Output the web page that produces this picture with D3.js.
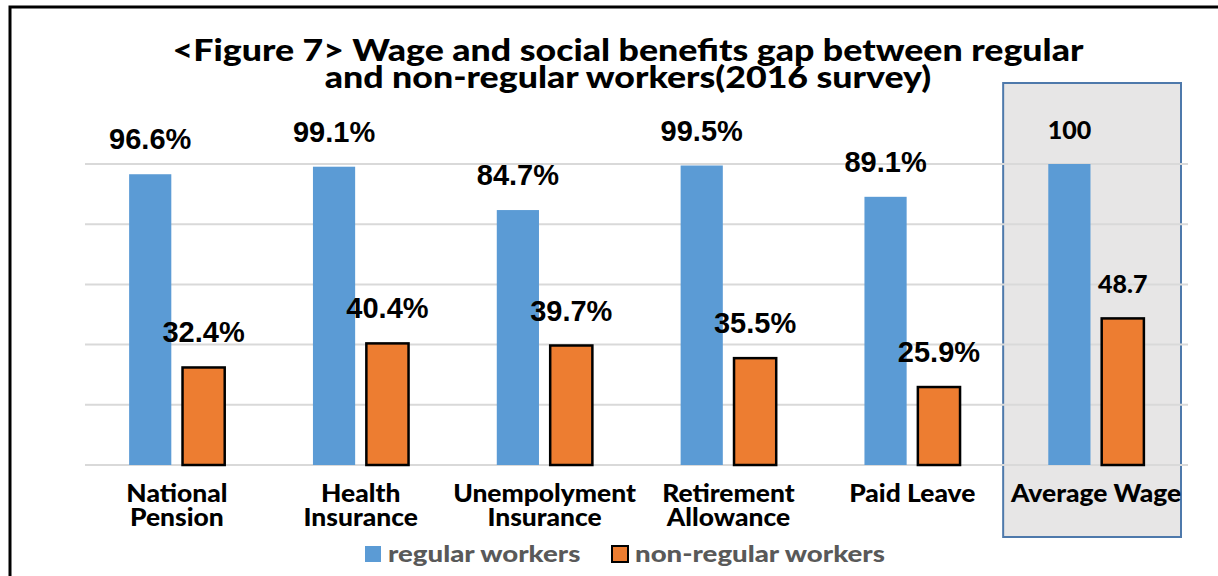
<!DOCTYPE html>
<html>
<head>
<meta charset="utf-8">
<script src="https://d3js.org/d3.v7.min.js"></script>
<style>
  body { margin: 0; background: #fff; }
  svg { display: block; }
</style>
</head>
<body>
<div class="canvas"></div>
<script>
// data
const categories = [
    ['National', 'Pension'],
    ['Health', 'Insurance'],
    ['Unempolyment', 'Insurance'],
    ['Retirement', 'Allowance'],
    ['Paid Leave'],
    ['Average Wage']
];
const regular = [96.6, 99.1, 84.7, 99.5, 89.1, 100];
const nonRegular = [32.4, 40.4, 39.7, 35.5, 25.9, 48.7];
const series = ['regular workers', 'non-regular workers'];
const yTicks = [0, 20, 40, 60, 80, 100];
const titleLines = [
    '<Figure 7> Wage and social benefits gap between regular',
    'and non-regular workers(2016 survey)'
];

const width = 1218, height = 576;
const sans = 'Lato, "Open Sans", sans-serif';
const arial = '"Liberation Sans", Arial, sans-serif';

const svg = d3.select('.canvas')
    .append('svg')
    .attr('width', width)
    .attr('height', height);

// the reference text looks stretched sideways, so widen calibri-ish text a bit
function stretch(sel, k) {
    sel.each(function () {
        const w = this.getComputedTextLength();
        d3.select(this)
            .attr('textLength', w * k)
            .attr('lengthAdjust', 'spacingAndGlyphs');
    });
}

const keys = categories.map(c => c.join(' '));
const data = keys.map((k, i) => ({ key: k, lines: categories[i], values: [regular[i], nonRegular[i]] }));

// scales
const x = d3.scaleBand()
    .domain(keys)
    .range([85, 1188])
    .paddingInner(0.48)
    .paddingOuter(0.24);

const x1 = d3.scaleBand()
    .domain([0, 1])
    .range([0, x.bandwidth()])
    .paddingInner(0.21);

const y = d3.scaleLinear()
    .domain([0, 100])
    .range([465, 164]);

const colors = ['#5b9bd5', '#ed7d31'];

// outer frame
svg.append('rect')
    .attr('x', 10).attr('y', 7)
    .attr('width', width + 20).attr('height', height + 20)
    .attr('fill', 'none')
    .attr('stroke', '#000')
    .attr('stroke-width', 3);

// highlight box for average wage
const last = keys[keys.length - 1];
const step = x.step();
svg.append('rect')
    .attr('x', x(last) - step * x.paddingInner() / 2 - 1)
    .attr('y', 83)
    .attr('width', step - 6)
    .attr('height', 454)
    .attr('fill', '#e7e6e6')
    .attr('stroke', '#4e79ab')
    .attr('stroke-width', 2);

// gridlines
svg.append('g')
    .selectAll('line')
    .data(yTicks)
    .enter()
    .append('line')
    .attr('x1', 85)
    .attr('x2', 1188)
    .attr('y1', d => y(d))
    .attr('y2', d => y(d))
    .attr('stroke', '#d9d9d9')
    .attr('stroke-width', 2);

// title
const title = svg.append('g')
    .selectAll('text')
    .data(titleLines)
    .enter()
    .append('text')
    .attr('x', 628)
    .attr('y', (d, i) => 61 + i * 27)
    .attr('text-anchor', 'middle')
    .attr('font-family', sans)
    .attr('font-weight', 900)
    .attr('font-size', 30)
    .text(d => d);
stretch(title, 1.19);

// bars
const groups = svg.append('g')
    .selectAll('g')
    .data(data)
    .enter()
    .append('g')
    .attr('transform', d => `translate(${x(d.key)},0)`);

groups.selectAll('rect')
    .data(d => d.values.map((v, i) => ({ v, i })))
    .enter()
    .append('rect')
    .attr('x', d => x1(d.i))
    .attr('y', d => y(d.v))
    .attr('width', x1.bandwidth())
    .attr('height', d => y(0) - y(d.v))
    .attr('fill', d => colors[d.i])
    .attr('stroke', d => d.i ? '#000' : 'none')
    .attr('stroke-width', 2.5);

// value labels
groups.selectAll('text.val')
    .data(d => d.values.map((v, i) => ({ v, i, last: d.key === last })))
    .enter()
    .append('text')
    .attr('class', 'val')
    .attr('x', d => x1(d.i) + x1.bandwidth() / 2)
    .attr('y', d => y(d.v) - 25)
    .attr('text-anchor', 'middle')
    .attr('font-family', d => d.last ? sans : arial)
    .attr('font-weight', d => d.last ? 900 : 'bold')
    .attr('font-size', d => d.last ? 25 : 29)
    .text(d => d.last ? d.v : d.v + '%');

// category labels
const catLabels = groups.selectAll('text.cat')
    .data(d => d.lines)
    .enter()
    .append('text')
    .attr('class', 'cat')
    .attr('x', x.bandwidth() / 2)
    .attr('y', (d, i) => 502 + i * 24)
    .attr('text-anchor', 'middle')
    .attr('font-family', sans)
    .attr('font-weight', 900)
    .attr('font-size', 24)
    .text(d => d);
stretch(catLabels, 1.1);

// legend
const legendX = [365, 612];
const legend = svg.append('g')
    .selectAll('g')
    .data(series)
    .enter()
    .append('g')
    .attr('transform', (d, i) => `translate(${legendX[i]},546)`);

legend.append('rect')
    .attr('width', 16).attr('height', 16)
    .attr('fill', (d, i) => colors[i])
    .attr('stroke', (d, i) => i ? '#000' : 'none')
    .attr('stroke-width', 2);

const legendText = legend.append('text')
    .attr('x', 23)
    .attr('y', 16)
    .attr('font-family', sans)
    .attr('font-weight', 900)
    .attr('font-size', 23)
    .attr('fill', '#595959')
    .text(d => d);
stretch(legendText, 1.2);
</script>
</body>
</html>
